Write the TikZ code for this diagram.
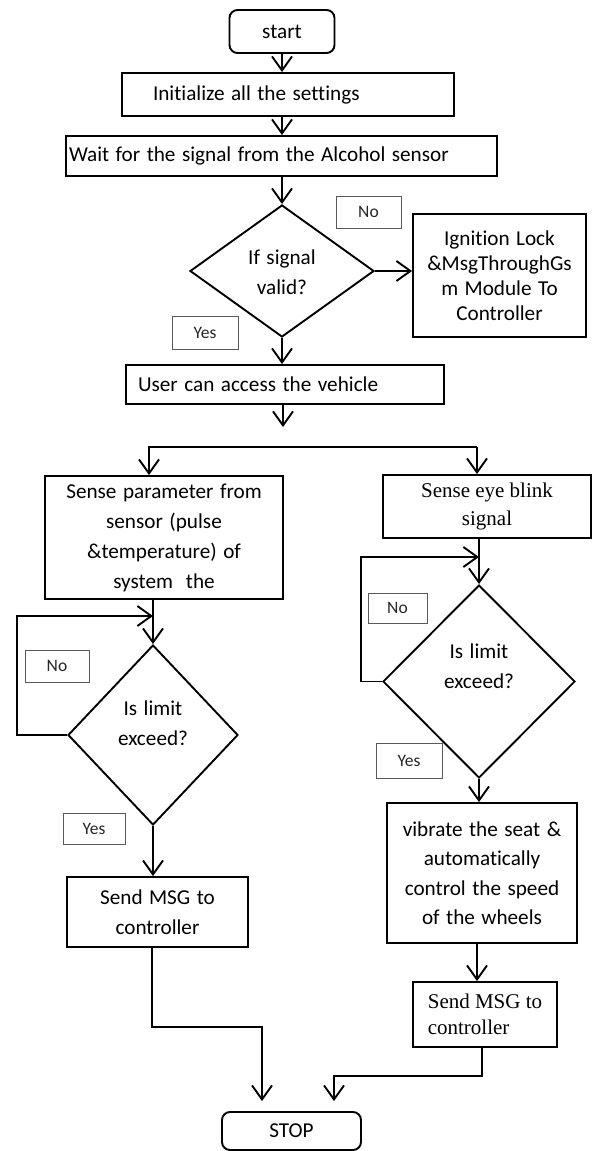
\documentclass[tikz,border=0pt]{standalone}
\usepackage{fontspec}
\setmainfont[WordSpace=1.35,Ligatures=NoCommon]{Carlito}
\newfontfamily\seriffont{Liberation Serif}
\usetikzlibrary{arrows.meta,shapes.geometric}
\begin{document}
\begin{tikzpicture}[x=1pt,y=-1pt,
  box/.style={draw,line width=1.9pt,inner sep=0pt,font=\fontsize{21.2}{30}\selectfont,align=center},
  term/.style={box,rounded corners=8pt},
  dia/.style={draw,diamond,line width=1.9pt,inner sep=0pt},
  txt/.style={inner sep=0pt,font=\fontsize{21.2}{30}\selectfont,align=center},
  lbl/.style={draw=black!65,line width=0.8pt,inner sep=0pt,font=\fontsize{17.5}{20}\selectfont,text=black!85},
  arr/.style={line width=1.9pt,-{Straight Barb[length=14pt,width=20pt]}}]
\useasboundingbox (0,0) rectangle (593,1151);

% nodes
\node[term,minimum width=105pt,minimum height=43pt] (start) at (282,31.5) {start};
\node[box,minimum height=43pt,text width=270pt,inner xsep=31pt,align=flush left] (init) at (288,94.5) {Initialize all the settings};
\node[box,minimum height=40pt,text width=425pt,inner xsep=3pt,align=flush left] (wait) at (281.5,156) {Wait for the signal from the Alcohol sensor};
\node[dia,minimum width=184pt,minimum height=132pt] (dec1) at (282,271) {};
\node[txt] (dec1t) at (282,272) {If signal\\valid?};
\node[lbl,minimum width=65pt,minimum height=32pt] (no1) at (368.5,212) {No};
\node[box,minimum width=173pt,minimum height=123pt,font=\fontsize{21.2}{25}\selectfont] (ign) at (499.5,275.5) {Ignition Lock\\\&MsgThroughGs\\m Module To\\Controller};
\node[lbl,minimum width=66pt,minimum height=33pt] (yes1) at (205,332.5) {Yes};
\node[box,minimum height=39pt,text width=294pt,inner xsep=12pt,align=flush left] (user) at (285,384.5) {User can access the vehicle};

\node[box,minimum width=238pt,minimum height=123pt] (lsense) at (164,537.5) {Sense parameter from\\sensor (pulse\\\&temperature) of\\system\ \ the};
\node[box,minimum width=208pt,minimum height=63pt,font=\seriffont\fontsize{21}{28}\selectfont] (rsense) at (487,506.5) {Sense eye blink\\signal};

\node[dia,minimum width=170pt,minimum height=180pt] (ldec) at (153,735) {};
\node[txt] (ldect) at (153,723) {Is limit\\exceed?};
\node[lbl,minimum width=64pt,minimum height=32pt] (lno) at (57,666) {No};
\node[lbl,minimum width=62pt,minimum height=31pt] (lyes) at (94,828.5) {Yes};
\node[box,minimum width=181pt,minimum height=70pt] (lsend) at (157.5,912) {Send MSG to\\controller};

\node[dia,minimum width=192pt,minimum height=193pt] (rdec) at (479,681.5) {};
\node[txt] (rdect) at (479,666) {Is limit\\exceed?};
\node[lbl,minimum width=59pt,minimum height=30pt] (rno) at (397.5,608) {No};
\node[lbl,minimum width=66pt,minimum height=35pt] (ryes) at (409,760.5) {Yes};
\node[box,minimum width=190pt,minimum height=140pt,font=\fontsize{21.2}{29.5}\selectfont] (vib) at (482,873) {vibrate the seat \&\\automatically\\control the speed\\of the wheels};
\node[box,minimum width=144pt,minimum height=65pt,align=left,font=\seriffont\fontsize{21}{26}\selectfont] (rsend) at (485,1014.5) {Send MSG to\\controller};

\node[term,minimum width=139pt,minimum height=38pt] (stop) at (291.5,1131) {STOP};

% connectors
\draw[arr] (start.south) -- (start.south |- init.north);
\draw[arr] (start.south |- init.south) -- (start.south |- wait.north);
\draw[arr] (dec1.north |- wait.south) -- (dec1.north);
\draw[arr] (dec1.east) -- (dec1.east -| ign.west);
\draw[arr] (dec1.south) -- (dec1.south |- user.north);
\coordinate (uend) at (283,427);
\draw[arr] (uend |- user.south) -- (uend);
\coordinate (sl) at (149,447);
\coordinate (sr) at (477,447);
\draw[arr] (sr) -- (sl) -- (sl |- lsense.north);
\draw[arr] (sr) -- (sr |- rsense.north);

\draw[arr] (ldec.north |- lsense.south) -- (ldec.north);
\coordinate (lloop) at (17,616);
\draw[arr] (ldec.west) -- (ldec.west -| lloop) -- (lloop) -- (lloop -| ldec.north);
\draw[arr] (ldec.south) -- (ldec.south |- lsend.north);
\coordinate (lj) at (262,1027);
\draw[arr,shorten >=10pt] ([xshift=-5.5pt]lsend.south) |- (lj) -- (lj |- stop.north);

\draw[arr] (rdec.north |- rsense.south) -- (rdec.north);
\coordinate (rloop) at (361,557);
\draw[arr] (rdec.west) -- (rdec.west -| rloop) -- (rloop) -- (rloop -| rdec.north);
\draw[arr] (rdec.south) -- (rdec.south |- vib.north);
\draw[arr] ([xshift=-5pt]vib.south) -- ([xshift=-5pt]vib.south |- rsend.north);
\coordinate (rj) at (334,1076);
\draw[arr,shorten >=10pt] ([xshift=-3pt]rsend.south) |- (rj) -- (rj |- stop.north);
\end{tikzpicture}
\end{document}
